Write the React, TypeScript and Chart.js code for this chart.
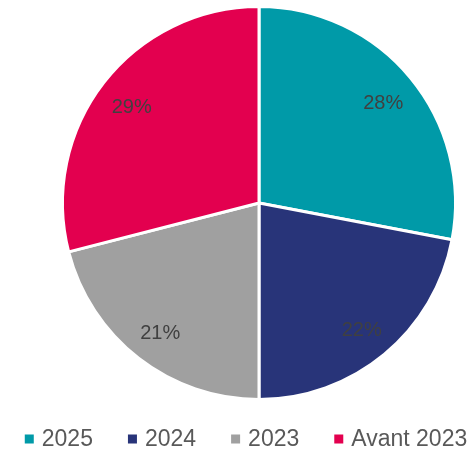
import React, { useEffect, useRef } from "react";
import { Chart, registerables } from "chart.js";

Chart.register(...registerables);

const categories = ["2025", "2024", "2023", "Avant 2023"];
const values = [28, 22, 21, 29];
const colors = ["#009AA8", "#283479", "#A0A0A0", "#E3004F"];

const labelPlugin = {
  id: "pctLabels",
  afterDatasetsDraw(chart: any) {
    const ctx = chart.ctx;
    const meta = chart.getDatasetMeta(0);
    ctx.save();
    ctx.font = "20px 'Liberation Sans'";
    ctx.fillStyle = "#404040";
    ctx.textAlign = "center";
    ctx.textBaseline = "middle";
    meta.data.forEach((arc: any, i: number) => {
      const p = arc.getProps(["x", "y", "startAngle", "endAngle", "outerRadius"], true);
      const mid = (p.startAngle + p.endAngle) / 2;
      const r = p.outerRadius * 0.82;
      ctx.fillText(values[i] + "%", p.x + Math.cos(mid) * r, p.y + Math.sin(mid) * r + 3);
    });
    ctx.restore();
  },
};

const legendPlugin = {
  id: "bottomLegend",
  afterDraw(chart: any) {
    const ctx = chart.ctx;
    const box = 9;
    const textGap = 8;
    const itemGap = 35;
    ctx.save();
    ctx.font = "23px 'Liberation Sans'";
    const labels: string[] = chart.data.labels;
    const widths = labels.map((l) => ctx.measureText(l).width);
    const total = widths.reduce((a, w) => a + box + textGap + w, 0) + itemGap * (labels.length - 1);
    let x = 246 - total / 2;
    const y = 439;
    ctx.textBaseline = "middle";
    ctx.textAlign = "left";
    labels.forEach((l, i) => {
      ctx.fillStyle = chart.data.datasets[0].backgroundColor[i];
      ctx.fillRect(x, y - box / 2, box, box);
      ctx.fillStyle = "#595959";
      ctx.fillText(l, x + box + textGap, y + 1);
      x += box + textGap + widths[i] + itemGap;
    });
    ctx.restore();
  },
};

export default function App() {
  const ref = useRef<HTMLCanvasElement>(null);
  useEffect(() => {
    document.body.style.margin = "0";
    const chart = new Chart(ref.current!, {
      type: "pie",
      data: {
        labels: categories,
        datasets: [
          {
            data: values,
            backgroundColor: colors,
            borderColor: "#ffffff",
            borderWidth: 3,
          },
        ],
      },
      options: {
        responsive: false,
        animation: false,
        devicePixelRatio: 1,
        layout: { padding: { left: 43, top: 5, right: 0, bottom: 50 } },
        plugins: {
          tooltip: { enabled: false },
          legend: { display: false },
        },
      },
      plugins: [labelPlugin, legendPlugin],
    });
    return () => chart.destroy();
  }, []);
  return (
    <div style={{ width: 475, height: 451 }}>
      <canvas ref={ref} width={475} height={451} style={{ width: 475, height: 451 }} />
    </div>
  );
}
